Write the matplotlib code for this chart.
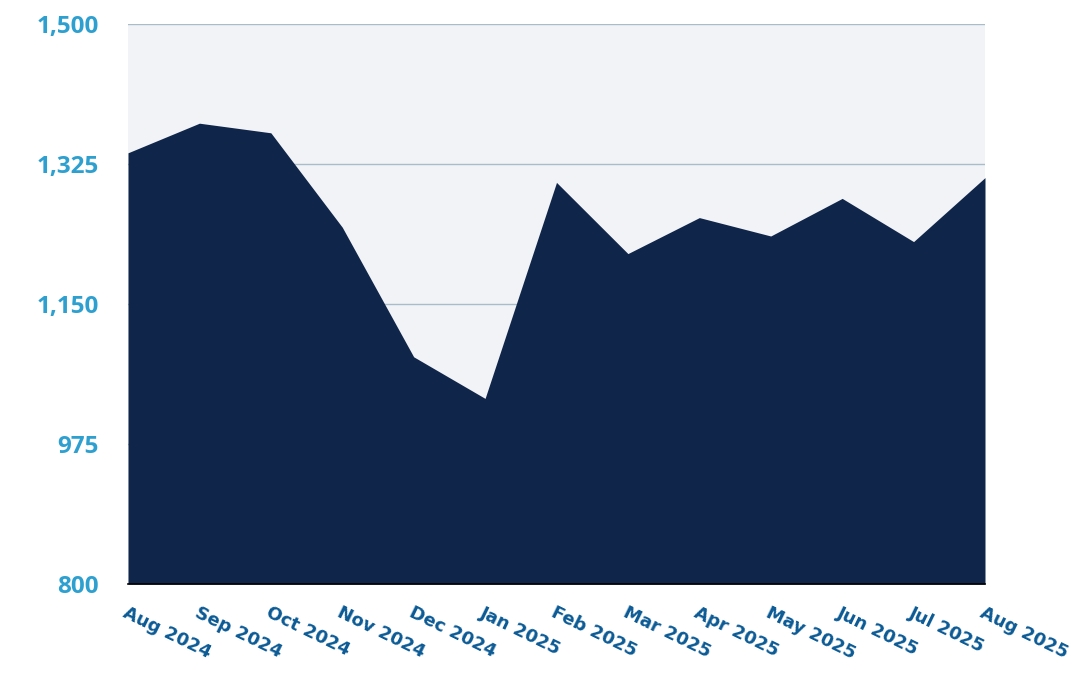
import matplotlib
matplotlib.use("Agg")
import matplotlib.pyplot as plt

months = ["Aug 2024", "Sep 2024", "Oct 2024", "Nov 2024", "Dec 2024", "Jan 2025",
          "Feb 2025", "Mar 2025", "Apr 2025", "May 2025", "Jun 2025", "Jul 2025",
          "Aug 2025"]
values = [1339, 1376, 1364, 1246, 1084, 1032, 1302, 1213, 1258, 1235, 1282, 1228, 1308]
y_ticks = [800, 975, 1150, 1325, 1500]

fig = plt.figure(figsize=(10.82, 6.8), dpi=100)
ax = fig.add_axes([128 / 1082, 1 - 584 / 680, (985 - 128) / 1082, (584 - 24) / 680])
ax.set_facecolor("#f2f3f6")

x = list(range(len(months)))
ax.fill_between(x, values, 800, color="#0f2549", linewidth=0, zorder=3)

ax.set_xlim(0, len(months) - 1)
ax.set_ylim(800, 1500)
ax.set_yticks(y_ticks)
ax.set_yticklabels([f"{v:,}" for v in y_ticks], fontfamily="Open Sans",
                   fontweight="bold", fontsize=17.5, color="#2ea0d0")
ax.set_xticks(x)
ax.set_xticklabels(months, rotation=-26, ha="left", rotation_mode="anchor",
                   fontfamily="DejaVu Sans", fontweight="bold", fontsize=13,
                   color="#0b5a95")
ax.tick_params(axis="y", length=0, pad=21)
ax.tick_params(axis="x", length=0, pad=14)

ax.grid(axis="y", color="#a9bccc", linewidth=1, zorder=1)
ax.grid(axis="x", visible=False)
for s in ["top", "right", "left"]:
    ax.spines[s].set_visible(False)
ax.spines["bottom"].set_color("black")
ax.spines["bottom"].set_linewidth(1.2)
ax.spines["bottom"].set_zorder(4)

fig.savefig("out.png", dpi=100)
